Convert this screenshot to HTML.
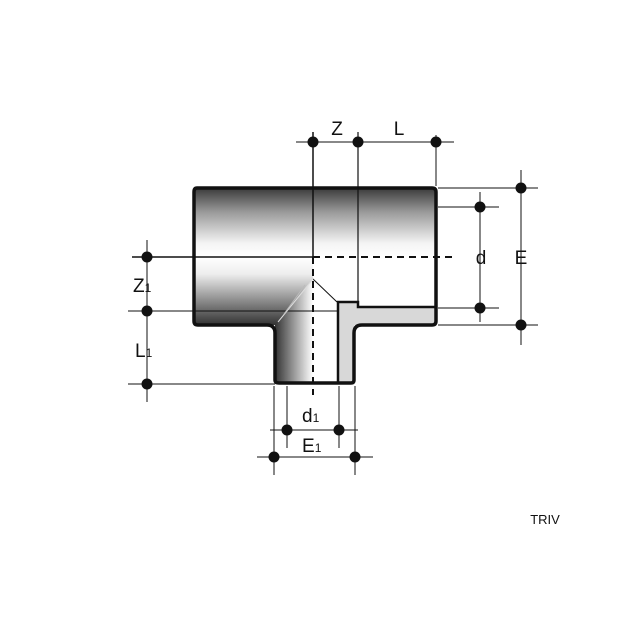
<!DOCTYPE html>
<html><head><meta charset="utf-8"><style>
html,body{margin:0;padding:0;background:#fff;}
svg{display:block}
text{font-family:"Liberation Sans",sans-serif;fill:#111}
</style></head><body>
<svg width="620" height="620" viewBox="0 0 620 620" xmlns="http://www.w3.org/2000/svg">
<defs>
<linearGradient id="gTop" x1="0" y1="0" x2="0" y2="1">
<stop offset="0" stop-color="#3a3a3a"/><stop offset="0.35" stop-color="#9a9a9a"/><stop offset="0.8" stop-color="#f4f4f4"/><stop offset="1" stop-color="#fff"/></linearGradient>
<linearGradient id="gBot" x1="0" y1="0" x2="0" y2="1">
<stop offset="0" stop-color="#fff"/><stop offset="0.25" stop-color="#eee"/><stop offset="0.65" stop-color="#8a8a8a"/><stop offset="1" stop-color="#333"/></linearGradient>
<linearGradient id="gBr" x1="0" y1="0" x2="1" y2="0">
<stop offset="0" stop-color="#333"/><stop offset="0.5" stop-color="#999"/><stop offset="1" stop-color="#fff"/></linearGradient>
</defs>
<!-- fills -->
<rect x="194" y="188" width="241" height="69" fill="url(#gTop)"/>
<rect x="194" y="257" width="119" height="68" fill="url(#gBot)"/>
<polygon points="313,279 313,383 275,383 275,324" fill="url(#gBr)"/>
<!-- grey section -->
<path d="M337,302 H358 V307 H436 V325 H354 V383 H338 Z" fill="#d8d8d8"/>
<path d="M338,383 V302 H358 V307 H436" fill="none" stroke="#111" stroke-width="2.5"/>
<!-- outline -->
<path d="M197,188 H432 Q436,188 436,192 V321 Q436,325 432,325 H362 Q354,325 354,333 V380 Q354,383 351,383 H279 Q275,383 275,380 V333 Q275,325 267,325 H198 Q194,325 194,321 V192 Q194,188 197,188 Z" fill="none" stroke="#111" stroke-width="3.5"/>
<!-- internal lines -->
<line x1="313" y1="279" x2="337" y2="302" stroke="#111" stroke-width="1"/>
<line x1="194" y1="311" x2="338" y2="311" stroke="#111" stroke-width="1"/>
<line x1="313" y1="279" x2="278" y2="322" stroke="#ddd" stroke-width="1"/>
<line x1="305" y1="285" x2="284" y2="314" stroke="#bbb" stroke-width="1"/>
<!-- center lines -->
<line x1="313" y1="132" x2="313" y2="257" stroke="#111" stroke-width="1.5"/>
<line x1="313" y1="257" x2="313" y2="395" stroke="#111" stroke-width="2" stroke-dasharray="7,5"/>
<line x1="132" y1="257" x2="313" y2="257" stroke="#111" stroke-width="1.5"/>
<line x1="313" y1="257" x2="455" y2="257" stroke="#111" stroke-width="2" stroke-dasharray="7,5"/>
<line x1="358" y1="132" x2="358" y2="307" stroke="#111" stroke-width="1.2"/>
<!-- dimension lines -->
<g stroke="#111" stroke-width="1">
<line x1="296" y1="142" x2="454" y2="142"/>
<line x1="436" y1="135" x2="436" y2="186"/>
<line x1="438" y1="188" x2="538" y2="188"/><line x1="438" y1="325" x2="538" y2="325"/>
<line x1="521" y1="170" x2="521" y2="345"/>
<line x1="438" y1="207" x2="499" y2="207"/><line x1="438" y1="308" x2="499" y2="308"/>
<line x1="480" y1="192" x2="480" y2="322"/>
<line x1="128" y1="311" x2="194" y2="311"/><line x1="128" y1="384" x2="275" y2="384"/>
<line x1="147" y1="240" x2="147" y2="402"/>
<line x1="274" y1="386" x2="274" y2="475"/><line x1="355" y1="386" x2="355" y2="475"/>
<line x1="287" y1="386" x2="287" y2="448"/><line x1="339" y1="386" x2="339" y2="448"/>
<line x1="270" y1="430" x2="358" y2="430"/><line x1="257" y1="457" x2="373" y2="457"/>
</g>
<g fill="#111">
<circle cx="313" cy="142" r="5.5"/><circle cx="358" cy="142" r="5.5"/><circle cx="436" cy="142" r="5.5"/>
<circle cx="521" cy="188" r="5.5"/><circle cx="521" cy="325" r="5.5"/>
<circle cx="480" cy="207" r="5.5"/><circle cx="480" cy="308" r="5.5"/>
<circle cx="147" cy="257" r="5.5"/><circle cx="147" cy="311" r="5.5"/><circle cx="147" cy="384" r="5.5"/>
<circle cx="287" cy="430" r="5.5"/><circle cx="339" cy="430" r="5.5"/>
<circle cx="274" cy="457" r="5.5"/><circle cx="355" cy="457" r="5.5"/>
</g>
<!-- labels -->
<g font-size="19">
<text x="337" y="135" text-anchor="middle">Z</text>
<text x="399" y="135" text-anchor="middle">L</text>
<text x="481" y="264" text-anchor="middle">d</text>
<text x="521" y="264" text-anchor="middle">E</text>
<text x="133" y="292">Z<tspan font-size="12">1</tspan></text>
<text x="135" y="357">L<tspan font-size="12">1</tspan></text>
<text x="302" y="422">d<tspan font-size="12">1</tspan></text>
<text x="302" y="452">E<tspan font-size="12">1</tspan></text>
</g>
<text x="545" y="524" font-size="13" text-anchor="middle">TRIV</text>
</svg>
</body></html>
